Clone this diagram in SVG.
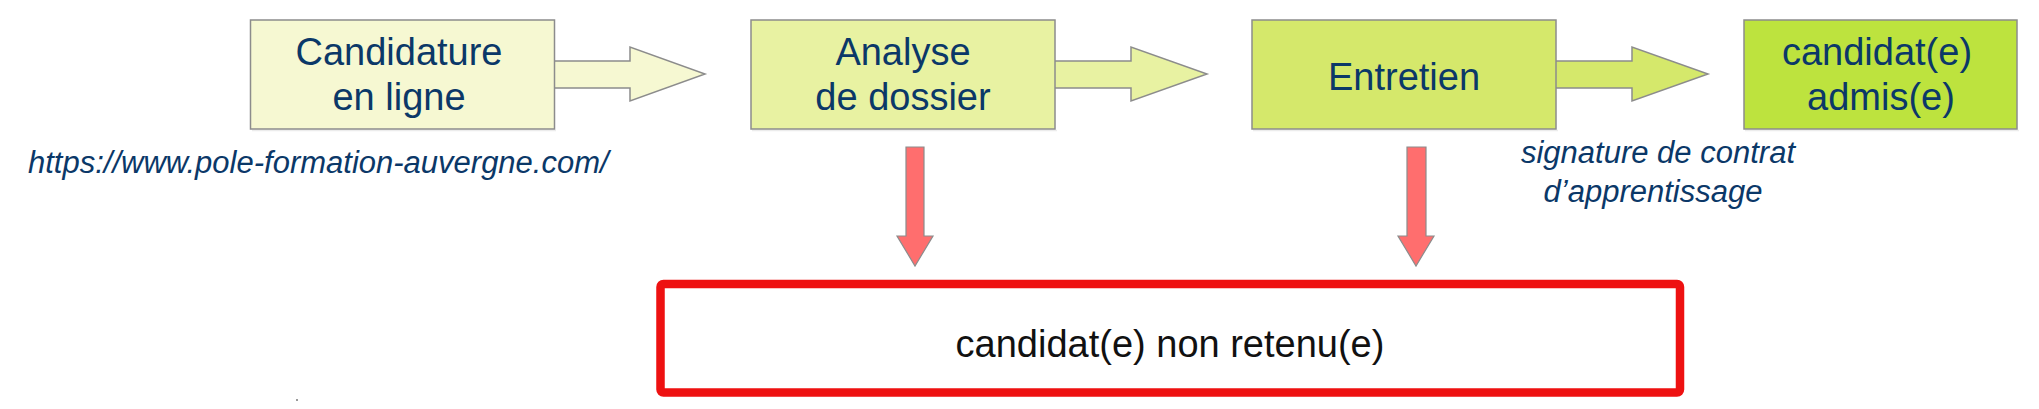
<svg xmlns="http://www.w3.org/2000/svg" width="2039" height="409" viewBox="0 0 2039 409">
<style>
.box{stroke:#8c8c8c;stroke-width:1.5}
.shadow{fill:none;stroke:#ececec;stroke-width:1.5}
.lbl{font-family:"Liberation Sans",Arial,sans-serif;font-size:38px;fill:#0b3868;text-anchor:middle}
.note{font-family:"Liberation Sans",Arial,sans-serif;font-size:31px;font-style:italic;fill:#0b3868}
.outl{fill:none;stroke:#8c8c8c;stroke-width:1.5;stroke-linejoin:miter}
.red{fill:#ff6e6e;stroke:#8c8c8c;stroke-width:1.2}
</style>
<rect width="2039" height="409" fill="#ffffff"/>

<g id="connectors">
  <g id="arrow1">
    <polygon points="554,61 630,61 630,47 705,74 630,101 630,88 554,88" fill="#f6f8d2"/>
    <polyline class="outl" points="554,61 630,61 630,47 705,74 630,101 630,88 554,88"/>
  </g>
  <g id="arrow2">
    <polygon points="1055,61 1131,61 1131,47 1207,74 1131,101 1131,88 1055,88" fill="#e8f2a2"/>
    <polyline class="outl" points="1055,61 1131,61 1131,47 1207,74 1131,101 1131,88 1055,88"/>
  </g>
  <g id="arrow3">
    <polygon points="1556,61 1632,61 1632,47 1708,74 1632,101 1632,88 1556,88" fill="#d5e86b"/>
    <polyline class="outl" points="1556,61 1632,61 1632,47 1708,74 1632,101 1632,88 1556,88"/>
  </g>
  <polygon id="down1" class="red" points="906,147 924,147 924,236 933,236 915,266 897,236 906,236"/>
  <polygon id="down2" class="red" points="1407,147 1426,147 1426,236 1434,236 1416,266 1398,236 1407,236"/>
</g>

<g id="node-candidature">
  <line class="shadow" x1="252" y1="130.5" x2="556" y2="130.5"/>
  <rect class="box" x="250.5" y="20" width="304" height="109" fill="#f6f8d2"/>
  <text class="lbl" x="399" y="65">Candidature</text>
  <text class="lbl" x="399" y="110">en ligne</text>
</g>

<g id="node-analyse">
  <line class="shadow" x1="752" y1="130.5" x2="1057" y2="130.5"/>
  <rect class="box" x="751" y="20" width="304" height="109" fill="#e8f2a2"/>
  <text class="lbl" x="903" y="65">Analyse</text>
  <text class="lbl" x="903" y="110">de dossier</text>
</g>

<g id="node-entretien">
  <line class="shadow" x1="1253" y1="130.5" x2="1558" y2="130.5"/>
  <rect class="box" x="1252" y="20" width="304" height="109" fill="#d5e86b"/>
  <text class="lbl" x="1404" y="90">Entretien</text>
</g>

<g id="node-admis">
  <line class="shadow" x1="1745" y1="130.5" x2="2019" y2="130.5"/>
  <rect class="box" x="1744" y="20" width="273" height="109" fill="#bde33e"/>
  <text class="lbl" x="1877" y="65">candidat(e)</text>
  <text class="lbl" x="1881" y="110">admis(e)</text>
</g>

<g id="node-url">
  <text class="note" x="28" y="173">https://www.pole-formation-auvergne.com/</text>
</g>

<g id="node-signature">
  <text class="note" x="1658" y="163" text-anchor="middle">signature de contrat</text>
  <text class="note" x="1653" y="202" text-anchor="middle">d’apprentissage</text>
</g>

<g id="node-non-retenu">
  <rect x="660.5" y="284" width="1019.5" height="108.5" rx="3" fill="#ffffff" stroke="#ee1111" stroke-width="8.5"/>
  <text x="1170" y="357" font-family="'Liberation Sans',Arial,sans-serif" font-size="38" fill="#111111" text-anchor="middle">candidat(e) non retenu(e)</text>
</g>

<rect x="296" y="399" width="2" height="2" fill="#9a9a9a"/>
</svg>
